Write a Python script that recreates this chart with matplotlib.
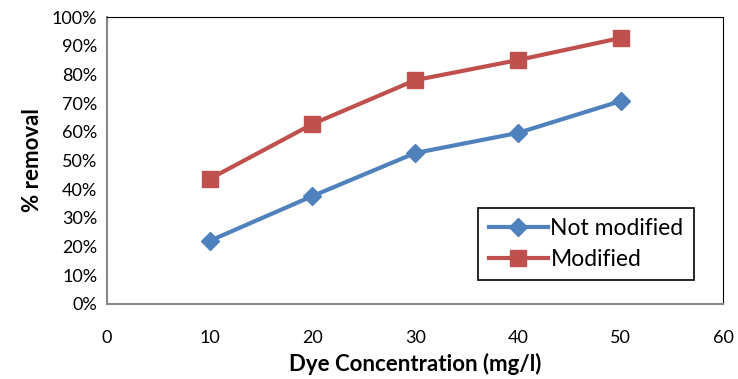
import matplotlib.pyplot as plt
from matplotlib.ticker import PercentFormatter

plt.rcParams['font.family'] = ['Lato', 'DejaVu Sans']

# data
conc = [10, 20, 30, 40, 50]
not_modified = [22, 37.6, 52.6, 59.6, 70.7]
modified = [43.6, 62.7, 78, 85, 92.7]

fig = plt.figure(figsize=(7.38, 3.79), dpi=100)
ax = fig.add_axes([0.145, 0.198, 0.835, 0.757])

ax.plot(conc, not_modified, '-D', color='#4F81BD', lw=3, ms=9, label='Not modified')
ax.plot(conc, modified, '-s', color='#C0504D', lw=3, ms=11, label='Modified')

ax.set_xlim(0, 60)
ax.set_ylim(0, 100)
ax.set_xticks(range(0, 61, 10))
ax.set_yticks(range(0, 101, 10))
ax.yaxis.set_major_formatter(PercentFormatter(decimals=0))
ax.tick_params(length=0, labelsize=13, pad=7)
ax.tick_params(axis='x', pad=19)

for s in ['top', 'right']:
    ax.spines[s].set_color('black')
    ax.spines[s].set_linewidth(0.8)
for s in ['left', 'bottom']:
    ax.spines[s].set_color('#868686')
    ax.spines[s].set_linewidth(1.5)

ax.set_xlabel('Dye Concentration (mg/l)', fontsize=16, fontweight='bold', labelpad=5)
ax.set_ylabel('% removal', fontsize=16, fontweight='bold', labelpad=6)

leg = ax.legend(loc='lower right', bbox_to_anchor=(0.971, 0.042), fontsize=16.5,
                fancybox=False, framealpha=1, edgecolor='black',
                handlelength=2.6, handletextpad=0.1, borderpad=0.45, labelspacing=0.45)
leg.get_frame().set_linewidth(1.2)

fig.savefig('out.png', dpi=100)
